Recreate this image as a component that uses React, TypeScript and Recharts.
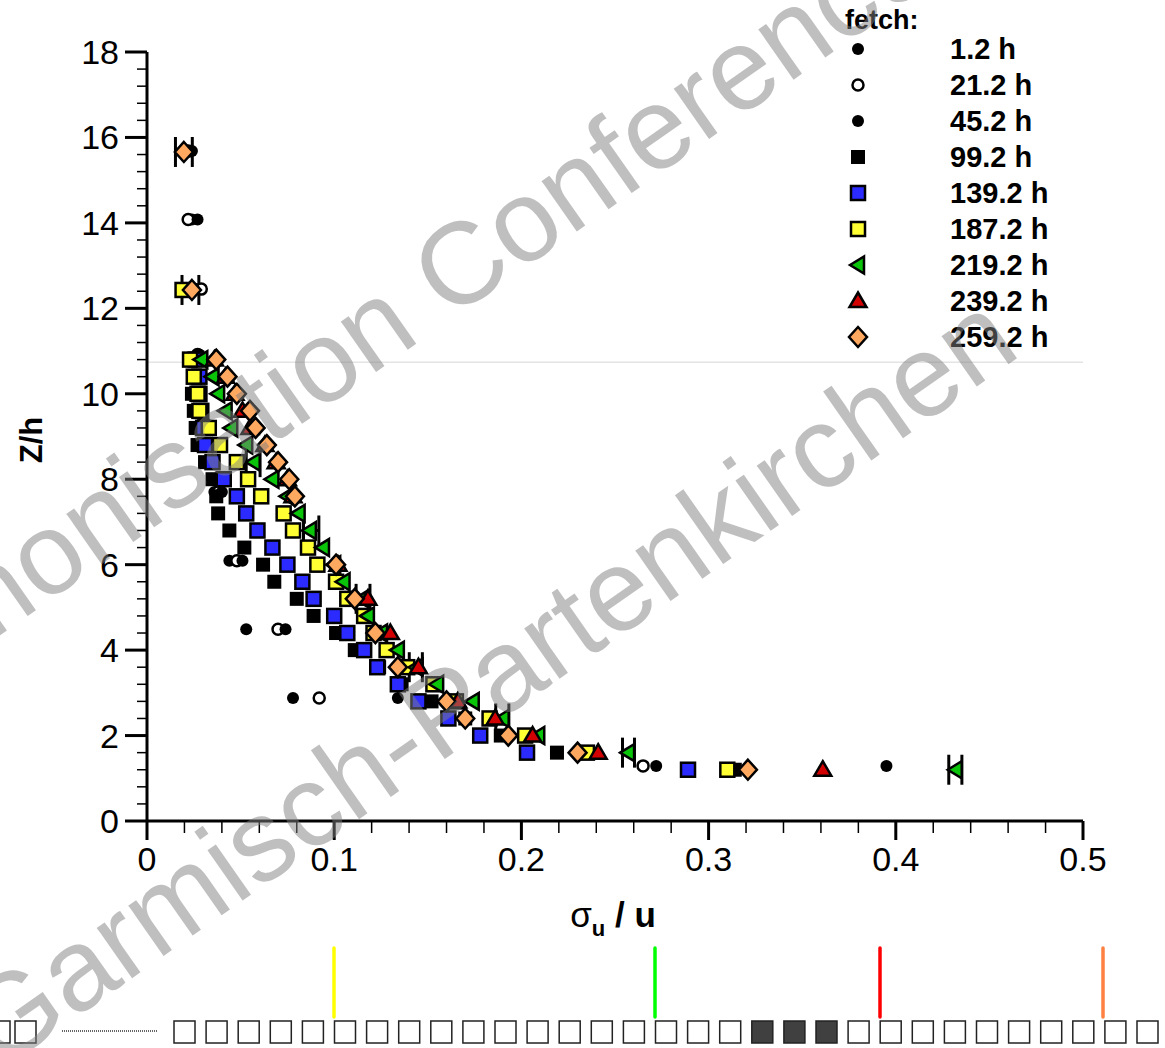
import React from 'react';
import { ScatterChart, Scatter, XAxis, YAxis, ErrorBar, Legend, ReferenceLine } from 'recharts';

const FONT = '"Liberation Sans", Arial, Helvetica, sans-serif';

// ---------- axis ticks ----------
const xMajorTicks = [0, 0.1, 0.2, 0.3, 0.4, 0.5];
const xTickLabels = ['0', '0.1', '0.2', '0.3', '0.4', '0.5'];
const yMajorTicks = [0, 2, 4, 6, 8, 10, 12, 14, 16, 18];
const yTickLabels = ['0', '2', '4', '6', '8', '10', '12', '14', '16', '18'];
const xMinorStep = 0.02;
const yMinorStep = 0.4;

const buildTicks = (max: number, step: number) => {
  const n = Math.round(max / step);
  return Array.from({ length: n + 1 }, (_, i) => Math.round(i * step * 10000) / 10000);
};
const xTicks = buildTicks(0.5, xMinorStep);
const yTicks = buildTicks(18, yMinorStep);

// ---------- data ----------
const circleLevels = [15.68, 14.08, 12.45, 10.92, 9.3, 7.7, 6.09, 4.49, 2.88, 1.29];
const h1_2_x = [0.023, 0.024, 0.026, 0.027, 0.029, 0.036, 0.044, 0.053, 0.078, 0.395];
const h21_2_x = [0.022, 0.022, 0.029, 0.027, 0.031, 0.038, 0.048, 0.07, 0.092, 0.265];
const h45_2_x = [0.024, 0.027, 0.025, 0.028, 0.03, 0.04, 0.051, 0.074, 0.134, 0.272];

const h99_2_z = [10.0, 9.6, 9.2, 8.8, 8.4, 8.0, 7.6, 7.2, 6.8, 6.4, 6.0, 5.6, 5.2, 4.8, 4.4, 4.0, 3.6, 3.2, 2.8, 2.4, 2.0, 1.6, 1.2];
const h99_2_x = [0.024, 0.025, 0.026, 0.027, 0.031, 0.035, 0.037, 0.038, 0.044, 0.052, 0.062, 0.068, 0.08, 0.089, 0.101, 0.111, 0.124, 0.136, 0.152, 0.17, 0.189, 0.219, 0.314];

const fullLevels = [10.8, 10.4, 10.0, 9.6, 9.2, 8.8, 8.4, 8.0, 7.6, 7.2, 6.8, 6.4, 6.0, 5.6, 5.2, 4.8, 4.4, 4.0, 3.6, 3.2, 2.8, 2.4, 2.0, 1.6, 1.2];
const h139_2_x = [0.026, 0.028, 0.028, 0.029, 0.03, 0.031, 0.035, 0.041, 0.048, 0.053, 0.059, 0.067, 0.075, 0.083, 0.089, 0.1, 0.107, 0.116, 0.123, 0.134, 0.145, 0.161, 0.178, 0.203, 0.289];

const h187_2_z = [12.43, 10.8, 10.4, 10.0, 9.6, 9.2, 8.8, 8.4, 8.0, 7.6, 7.2, 6.8, 6.4, 6.0, 5.6, 5.2, 4.8, 4.4, 4.0, 3.6, 3.2, 2.8, 2.4, 2.0, 1.6, 1.2];
const h187_2_x = [0.019, 0.023, 0.025, 0.027, 0.028, 0.033, 0.039, 0.048, 0.054, 0.061, 0.073, 0.078, 0.086, 0.091, 0.101, 0.107, 0.116, 0.121, 0.128, 0.139, 0.153, 0.165, 0.183, 0.202, 0.235, 0.31];

const h219_2_x = [0.029, 0.035, 0.038, 0.042, 0.045, 0.053, 0.057, 0.067, 0.075, 0.081, 0.087, 0.094, 0.1, 0.105, 0.115, 0.118, 0.125, 0.134, 0.144, 0.155, 0.174, 0.19, 0.209, 0.257, 0.432];

const h239_2_z = [10.8, 10.4, 10.0, 9.6, 9.2, 8.8, 8.4, 8.0, 7.6, 6.0, 5.2, 4.4, 3.6, 2.8, 2.4, 2.0, 1.6, 1.2];
const h239_2_x = [0.036, 0.042, 0.047, 0.051, 0.055, 0.063, 0.069, 0.075, 0.078, 0.102, 0.118, 0.13, 0.145, 0.166, 0.186, 0.206, 0.241, 0.361];

const h259_2_z = [15.66, 12.43, 10.8, 10.4, 10.0, 9.6, 9.2, 8.8, 8.4, 8.0, 7.6, 6.0, 5.2, 4.4, 3.6, 2.8, 2.4, 2.0, 1.6, 1.2];
const h259_2_x = [0.0197, 0.024, 0.037, 0.043, 0.048, 0.055, 0.058, 0.064, 0.07, 0.076, 0.079, 0.101, 0.111, 0.122, 0.134, 0.16, 0.17, 0.193, 0.23, 0.321];

// error bars (horizontal)
const err_z = [15.66, 12.43, 8.4, 6.8, 5.2, 3.6, 2.4, 1.6, 1.2];
const err_x = [0.0197, 0.0232, 0.0567, 0.0877, 0.1154, 0.1436, 0.1898, 0.2572, 0.4318];
const err_dx = [0.0045, 0.0045, 0.0037, 0.0041, 0.0037, 0.0035, 0.0035, 0.0032, 0.0035];

const zip = (xs: number[], zs: number[]) => zs.map((z, i) => ({ x: xs[i], z }));
const errData = err_z.map((z, i) => ({ x: err_x[i], z, dx: err_dx[i] }));

// ---------- marker shapes ----------
const SW = 2.5;
const BlackDot = ({ cx, cy }: any) => <circle cx={cx} cy={cy} r={6} fill="#000" />;
const OpenDot = ({ cx, cy }: any) => <circle cx={cx} cy={cy} r={5.5} fill="#fff" stroke="#000" strokeWidth={SW} />;
const BlackSquare = ({ cx, cy }: any) => <rect x={cx - 7} y={cy - 7} width={14} height={14} fill="#000" />;
const makeSquare = (fill: string) => ({ cx, cy }: any) => (
  <rect x={cx - 7} y={cy - 7} width={14} height={14} fill={fill} stroke="#000" strokeWidth={SW} />
);
const BlueSquare = makeSquare('#2b2bff');
const YellowSquare = makeSquare('#ffff33');
const GreenTri = ({ cx, cy }: any) => (
  <polygon points={`${cx - 8},${cy} ${cx + 6},${cy - 8.5} ${cx + 6},${cy + 8.5}`} fill="#0ac40a" stroke="#000" strokeWidth={SW} strokeLinejoin="miter" />
);
const RedTri = ({ cx, cy }: any) => (
  <polygon points={`${cx},${cy - 8.5} ${cx + 8.5},${cy + 6} ${cx - 8.5},${cy + 6}`} fill="#d20000" stroke="#000" strokeWidth={SW} strokeLinejoin="miter" />
);
const OrangeDiamond = ({ cx, cy }: any) => (
  <polygon points={`${cx},${cy - 10} ${cx + 9},${cy} ${cx},${cy + 10} ${cx - 9},${cy}`} fill="#ffa860" stroke="#000" strokeWidth={SW} strokeLinejoin="miter" />
);
const EmptyShape = () => <g />;

const seriesDefs: any[] = [
  { name: '1.2 h', data: zip(h1_2_x, circleLevels), shape: BlackDot },
  { name: '21.2 h', data: zip(h21_2_x, circleLevels), shape: OpenDot },
  { name: '45.2 h', data: zip(h45_2_x, circleLevels), shape: BlackDot },
  { name: '99.2 h', data: zip(h99_2_x, h99_2_z), shape: BlackSquare },
  { name: '139.2 h', data: zip(h139_2_x, fullLevels), shape: BlueSquare },
  { name: '187.2 h', data: zip(h187_2_x, h187_2_z), shape: YellowSquare },
  { name: '219.2 h', data: zip(h219_2_x, fullLevels), shape: GreenTri },
  { name: '239.2 h', data: zip(h239_2_x, h239_2_z), shape: RedTri },
  { name: '259.2 h', data: zip(h259_2_x, h259_2_z), shape: OrangeDiamond },
];
const seriesOrder = seriesDefs.map((s) => s.name);
const shapeByName: Record<string, any> = {};
seriesDefs.forEach((s) => (shapeByName[s.name] = s.shape));

// ---------- ticks ----------
const isMajor = (v: number, arr: number[]) => arr.findIndex((m) => Math.abs(m - v) < 1e-6);

const XTick = (props: any) => {
  const { x, y, payload } = props;
  const idx = isMajor(payload.value, xMajorTicks);
  if (idx < 0) return <line x1={x} y1={y} x2={x} y2={y + 12} stroke="#000" strokeWidth={1.5} />;
  return (
    <g>
      <line x1={x} y1={y} x2={x} y2={y + 19} stroke="#000" strokeWidth={3} />
      <text x={x} y={y + 50} textAnchor="middle" fontSize={34} fontFamily={FONT} fill="#000">
        {xTickLabels[idx]}
      </text>
    </g>
  );
};

const YTick = (props: any) => {
  const { x, y, payload } = props;
  const idx = isMajor(payload.value, yMajorTicks);
  if (idx < 0) return <line x1={x - 10} y1={y} x2={x} y2={y} stroke="#000" strokeWidth={1.5} />;
  return (
    <g>
      <line x1={x - 22} y1={y} x2={x} y2={y} stroke="#000" strokeWidth={3} />
      <text x={x - 28} y={y + 12} textAnchor="end" fontSize={34} fontFamily={FONT} fill="#000">
        {yTickLabels[idx]}
      </text>
    </g>
  );
};

const XTitle = (props: any) => {
  const vb = props.viewBox || {};
  const cx = vb.x + vb.width / 2 - 2;
  const by = vb.y + 106;
  return (
    <text x={cx} y={by} textAnchor="middle" fontFamily={FONT} fill="#000" fontSize={35}>
      <tspan>σ</tspan>
      <tspan fontSize={22} fontWeight="bold" dy={9}>u</tspan>
      <tspan fontWeight="bold" dy={-9}> / u</tspan>
    </text>
  );
};

const YTitle = () => {
  const cx = 31;
  const cy = 440;
  return (
    <text x={cx} y={cy} transform={`rotate(-90 ${cx} ${cy})`} textAnchor="middle" dominantBaseline="central" fontFamily={FONT} fontWeight="bold" fontSize={31} fill="#000">
      Z/h
    </text>
  );
};

const LegendContent = (props: any) => {
  const items = (props.payload || [])
    .filter((p: any) => shapeByName[p.value])
    .slice()
    .sort((a: any, b: any) => seriesOrder.indexOf(a.value) - seriesOrder.indexOf(b.value));
  return (
    <svg width={320} height={360} style={{ display: 'block' }}>
      <text x={15} y={29} fontFamily={FONT} fontWeight="bold" fontSize={27} fill="#000">fetch:</text>
      {items.map((p: any, i: number) => {
        const cy = 49 + i * 36;
        const Shape = shapeByName[p.value];
        return (
          <g key={p.value}>
            <Shape cx={28} cy={cy} />
            <text x={120} y={cy + 10} fontFamily={FONT} fontWeight="bold" fontSize={29} fill="#000">
              {p.value}
            </text>
          </g>
        );
      })}
    </svg>
  );
};

// ---------- decoration (slide watermark + navigation strip) ----------
const navStart = 174;
const navStep = 32.1;
const navCount = 31;
const navDark = [18, 19, 20];
const navLeftSquares = [-11, 15];
const navLines = [
  { x: 334, color: '#ffff00' },
  { x: 655, color: '#00ff00' },
  { x: 880, color: '#ff0000' },
  { x: 1103, color: '#ff8040' },
];
const watermarkTexts = [
  { text: 'Harmonisation Conference', x: 352, y: 340 },
  { text: 'Garmisch-Partenkirchen', x: 488, y: 680 },
];

const Overlay = () => {
  const squares = [...navLeftSquares, ...Array.from({ length: navCount }, (_, k) => navStart + k * navStep)];
  return (
    <svg width={1165} height={1048} style={{ position: 'absolute', left: 0, top: 0, pointerEvents: 'none' }}>
      {squares.map((sx, i) => {
        const k = i - navLeftSquares.length;
        const dark = navDark.includes(k);
        return <rect key={i} x={sx} y={1021} width={21} height={22} fill={dark ? '#404040' : '#fff'} stroke="#222" strokeWidth={1.5} />;
      })}
      <line x1={62} y1={1031} x2={158} y2={1031} stroke="#333" strokeWidth={1.5} strokeDasharray="1 1" />
      {navLines.map((l) => (
        <line key={l.x} x1={l.x} y1={948} x2={l.x} y2={1017} stroke={l.color} strokeWidth={3.5} strokeLinecap="round" />
      ))}
      <g fill="#808080" opacity={0.5} fontFamily={FONT} fontSize={116}>
        {watermarkTexts.map((w) => (
          <text key={w.text} x={w.x} y={w.y} textAnchor="middle" dominantBaseline="central" transform={`rotate(-35 ${w.x} ${w.y})`}>
            {w.text}
          </text>
        ))}
      </g>
    </svg>
  );
};

export default function App() {
  return (
    <div style={{ position: 'absolute', left: 0, top: 0, width: 1165, height: 1048, background: '#fff', overflow: 'hidden' }}>
      <ScatterChart width={1165} height={1048} margin={{ top: 52, right: 82, bottom: 167, left: 67 }}>
        <XAxis
          type="number"
          dataKey="x"
          domain={[0, 0.5]}
          ticks={xTicks}
          interval={0}
          height={60}
          tickSize={0}
          tickMargin={0}
          tickLine={false}
          axisLine={{ stroke: '#000', strokeWidth: 3 }}
          tick={XTick}
          label={XTitle}
          allowDataOverflow
        />
        <YAxis
          type="number"
          dataKey="z"
          domain={[0, 18]}
          ticks={yTicks}
          interval={0}
          width={80}
          tickSize={0}
          tickMargin={0}
          tickLine={false}
          axisLine={{ stroke: '#000', strokeWidth: 3 }}
          tick={YTick}
          label={YTitle}
          allowDataOverflow
        />
        <ReferenceLine y={10.74} stroke="#d6d6d6" strokeWidth={1} />
        <Legend
          layout="vertical"
          align="center"
          verticalAlign="middle"
          content={LegendContent}
          wrapperStyle={{ left: 830, top: 0, width: 320, height: 360 }}
        />
        <Scatter name="err" data={errData} shape={EmptyShape} legendType="none" isAnimationActive={false}>
          <ErrorBar dataKey="dx" direction="x" width={15} stroke="#000" strokeWidth={3} isAnimationActive={false} />
        </Scatter>
        {seriesDefs.map((s) => (
          <Scatter key={s.name} name={s.name} data={s.data} shape={s.shape} isAnimationActive={false} />
        ))}
      </ScatterChart>
      <Overlay />
    </div>
  );
}
